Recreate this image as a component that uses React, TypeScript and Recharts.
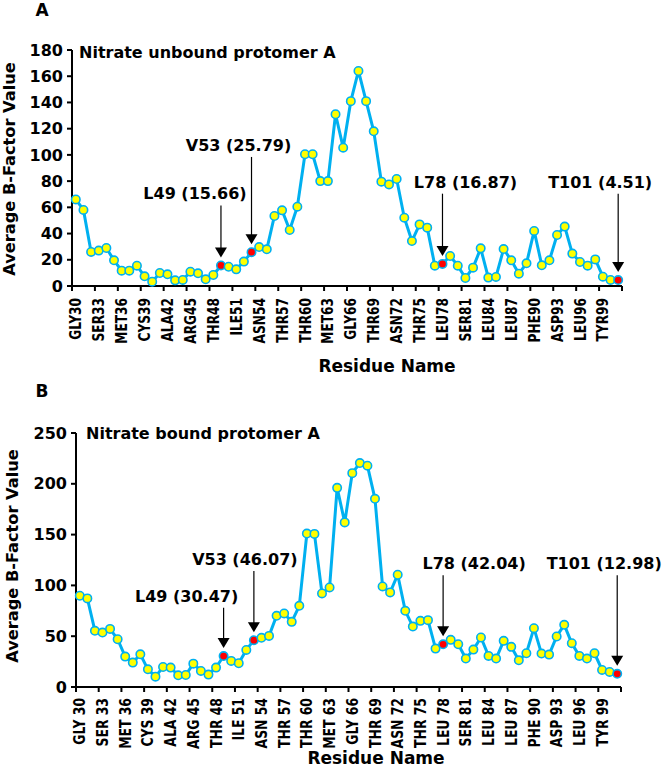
import React from 'react';
import { LineChart, Line, XAxis, YAxis, ReferenceLine } from 'recharts';

const residues = [30, 31, 32, 33, 34, 35, 36, 37, 38, 39, 40, 41, 42, 43, 44, 45, 46, 47, 48, 49, 50, 51, 52, 53, 54, 55, 56, 57, 58, 59, 60, 61, 62, 63, 64, 65, 66, 67, 68, 69, 70, 71, 72, 73, 74, 75, 76, 77, 78, 79, 80, 81, 82, 83, 84, 85, 86, 87, 88, 89, 90, 91, 92, 93, 94, 95, 96, 97, 98, 99, 100, 101];

const tickResidues = [30, 33, 36, 39, 42, 45, 48, 51, 54, 57, 60, 63, 66, 69, 72, 75, 78, 81, 84, 87, 90, 93, 96, 99];
const tickLabelsA = ['GLY30', 'SER33', 'MET36', 'CYS39', 'ALA42', 'ARG45', 'THR48', 'ILE51', 'ASN54', 'THR57', 'THR60', 'MET63', 'GLY66', 'THR69', 'ASN72', 'THR75', 'LEU78', 'SER81', 'LEU84', 'LEU87', 'PHE90', 'ASP93', 'LEU96', 'TYR99'];
const tickLabelsB = ['GLY 30', 'SER 33', 'MET 36', 'CYS 39', 'ALA 42', 'ARG 45', 'THR 48', 'ILE 51', 'ASN 54', 'THR 57', 'THR 60', 'MET 63', 'GLY 66', 'THR 69', 'ASN 72', 'THR 75', 'LEU 78', 'SER 81', 'LEU 84', 'LEU 87', 'PHE 90', 'ASP 93', 'LEU 96', 'TYR 99'];

const valuesA = [66, 58, 26, 27, 29, 19.6, 11.7, 11.7, 15.5, 7.4, 3.3, 9.9, 8.9, 4.3, 4.6, 10.9, 9.7, 5.1, 8.4, 15.66, 14.7, 12.7, 18.6, 25.79, 29.7, 28, 53.4, 57.7, 42.7, 60.5, 100.5, 100.5, 80, 80, 131, 105.5, 141, 164, 141, 118, 79.6, 77.5, 81.6, 52.1, 34.3, 47, 44.5, 15.5, 16.87, 22.9, 15.5, 6.1, 14, 28.7, 6.4, 6.9, 28.2, 19.6, 9.4, 17.3, 42, 15.8, 19.6, 38.9, 45.3, 24.7, 18.3, 15.5, 20.3, 7.1, 4.6, 4.51];
const valuesB = [89.8, 87.2, 55.3, 53.6, 57.2, 47, 29.9, 24, 32.2, 17.4, 10.2, 19.7, 19.1, 11.5, 11.8, 23, 15.8, 12.2, 19.1, 30.47, 25.7, 23.4, 36.5, 46.07, 48.4, 50.3, 70.1, 72.4, 64.1, 79.9, 151, 150.7, 92.1, 98, 196, 162, 210.5, 220.4, 217.8, 185.2, 99, 93.1, 110.5, 75, 59.5, 65.1, 65.8, 37.8, 42.04, 46.4, 42.1, 28, 36.8, 48.7, 30.6, 28, 45.4, 39.5, 26.3, 33.2, 57.9, 32.9, 31.9, 49.7, 61.2, 43.1, 30.6, 28, 33.2, 16.8, 14.8, 12.98];

const highlighted = [49, 53, 78, 101];
const highlightNames = ['L49', 'V53', 'L78', 'T101'];

const yTicksA = [0, 20, 40, 60, 80, 100, 120, 140, 160, 180];
const yTicksB = [0, 50, 100, 150, 200, 250];

// annotation label baseline heights (in data units) and horizontal text offsets
const annotLabelYA = [66, 103, 75, 75];
const annotLabelYB = [84, 120, 116, 116];
const annotDxA = [-26, -13, 23, -18];
const annotDxB = [-37, -9, 31, -13];

const FONT = '"DejaVu Sans", Verdana, sans-serif';
const BLUE = '#00B0F0';

const xDomain = [residues[0] - 0.5, residues[residues.length - 1] + 0.5];
const xTicks = [...tickResidues.map((r) => r - 0.5), residues[residues.length - 1] + 0.5];

type PanelProps = {
  values: number[];
  tickLabels: string[];
  yTicks: number[];
  annotLabelY: number[];
  annotDx: number[];
  height: number;
  margin: { top: number; right: number; left: number; bottom: number };
  yAxisWidth: number;
  xAxisHeight: number;
  labelGap: number;
  labelSize: number;
};

const renderDot = (p: any) => {
  const { cx, cy, payload, index } = p;
  const hl = highlighted.includes(payload.res);
  return (
    <circle
      key={`dot-${index}`}
      cx={cx}
      cy={cy}
      r={4.2}
      fill={hl ? '#FF0000' : '#FFFF00'}
      stroke={BLUE}
      strokeWidth={1.6}
    />
  );
};

const makeXTick = (labels: string[], halfBand: number, gap: number, size: number) => (props: any) => {
  const { x, y, payload } = props;
  const idx = tickResidues.indexOf(payload.value + 0.5);
  if (idx < 0) return <g />;
  const lx = x + halfBand;
  const ly = y + gap;
  return (
    <text
      x={0}
      y={0}
      transform={`translate(${lx} ${ly}) scale(1.28 1) rotate(-90)`}
      textAnchor="end"
      dominantBaseline="central"
      fontFamily={FONT}
      fontWeight="bold"
      fontSize={size}
      fill="#000"
    >
      {labels[idx]}
    </text>
  );
};

const makeArrow = (label: string, dx: number) => (p: any) => {
  const { x1, y1, y2 } = p;
  const x = x1;
  const top = Math.min(y1, y2);
  const tipY = Math.max(y1, y2) - 8;
  const startY = top + 6;
  const headH = 10;
  const headW = 6;
  return (
    <g>
      <text x={x + dx} y={top} textAnchor="middle" fontFamily={FONT} fontWeight="bold" fontSize={16} fill="#000">
        {label}
      </text>
      <line x1={x} y1={startY} x2={x} y2={tipY - headH + 1} stroke="#000" strokeWidth={1.2} />
      <polygon points={`${x - headW},${tipY - headH} ${x + headW},${tipY - headH} ${x},${tipY}`} fill="#000" />
    </g>
  );
};

function Panel(props: PanelProps) {
  const { values, tickLabels, yTicks, annotLabelY, annotDx, height, margin, yAxisWidth, xAxisHeight, labelGap, labelSize } = props;
  const data = residues.map((r, i) => ({ res: r, v: values[i] }));
  const plotWidth = 662 - margin.left - margin.right - yAxisWidth;
  const halfBand = plotWidth / residues.length / 2;
  return (
    <LineChart width={662} height={height} data={data} margin={margin}>
      <XAxis
        dataKey="res"
        type="number"
        domain={xDomain}
        ticks={xTicks}
        interval={0}
        height={xAxisHeight}
        axisLine={{ stroke: '#000', strokeWidth: 2 }}
        tickLine={{ stroke: '#000', strokeWidth: 2 }}
        tickSize={5}
        tickMargin={0}
        tick={makeXTick(tickLabels, halfBand, labelGap, labelSize)}
      />
      <YAxis
        type="number"
        domain={[yTicks[0], yTicks[yTicks.length - 1]]}
        ticks={yTicks}
        interval={0}
        width={yAxisWidth}
        axisLine={{ stroke: '#000', strokeWidth: 2 }}
        tickLine={{ stroke: '#000', strokeWidth: 2 }}
        tickSize={5}
        tickMargin={4}
        tick={{ fontFamily: FONT, fontWeight: 'bold', fontSize: 16, fill: '#000' }}
      />
      <Line
        dataKey="v"
        stroke={BLUE}
        strokeWidth={3}
        dot={renderDot}
        activeDot={false}
        isAnimationActive={false}
      />
      {highlighted.map((r, i) => {
        const val = values[residues.indexOf(r)];
        return (
          <ReferenceLine
            key={`ann-${r}`}
            segment={[{ x: r, y: annotLabelY[i] }, { x: r, y: val }]}
            ifOverflow="visible"
            shape={makeArrow(`${highlightNames[i]} (${val.toFixed(2)})`, annotDx[i])}
          />
        );
      })}
    </LineChart>
  );
}

const textStyle = { fontFamily: FONT, fontWeight: 'bold' as const, fill: '#000' };

export default function App() {
  return (
    <div style={{ position: 'absolute', left: 0, top: 0, width: 662, height: 779, background: '#fff', overflow: 'hidden' }}>
      <div style={{ position: 'absolute', left: 0, top: 0 }}>
        <Panel
          values={valuesA}
          tickLabels={tickLabelsA}
          yTicks={yTicksA}
          annotLabelY={annotLabelYA}
          annotDx={annotDxA}
          height={389}
          margin={{ top: 50, right: 40, left: 0, bottom: 0 }}
          yAxisWidth={72}
          xAxisHeight={103}
          labelGap={7}
          labelSize={12.2}
        />
      </div>
      <div style={{ position: 'absolute', left: 0, top: 389 }}>
        <Panel
          values={valuesB}
          tickLabels={tickLabelsB}
          yTicks={yTicksB}
          annotLabelY={annotLabelYB}
          annotDx={annotDxB}
          height={390}
          margin={{ top: 44, right: 41, left: 0, bottom: 0 }}
          yAxisWidth={76}
          xAxisHeight={92}
          labelGap={6}
          labelSize={12.4}
        />
      </div>
      <svg
        width={662}
        height={779}
        style={{ position: 'absolute', left: 0, top: 0, pointerEvents: 'none' }}
      >
        <text x={42} y={16} textAnchor="middle" fontSize={17} {...textStyle}>A</text>
        <text x={79} y={58} fontSize={16} {...textStyle}>Nitrate unbound protomer A</text>
        <text transform="translate(15,169) rotate(-90)" textAnchor="middle" fontSize={16.2} {...textStyle}>Average B-Factor Value</text>
        <text x={387} y={372} textAnchor="middle" fontSize={17} {...textStyle}>Residue Name</text>

        <text x={42} y={397} textAnchor="middle" fontSize={17} {...textStyle}>B</text>
        <text x={86} y={439} fontSize={16} {...textStyle}>Nitrate bound protomer A</text>
        <text transform="translate(17.5,556) rotate(-90)" textAnchor="middle" fontSize={16.2} {...textStyle}>Average B-Factor Value</text>
        <text x={376} y={764} textAnchor="middle" fontSize={17} {...textStyle}>Residue Name</text>
      </svg>
    </div>
  );
}
